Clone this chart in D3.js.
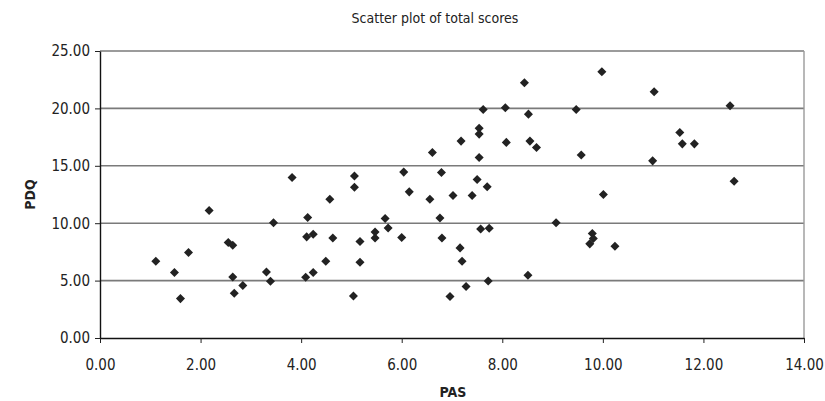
<!DOCTYPE html>
<html>
<head>
<meta charset="utf-8">
<script src="https://cdn.jsdelivr.net/npm/d3@7"></script>
<style>
  body { margin: 0; background: #fff; }
  svg text { font-family: "DejaVu Sans Condensed", "Liberation Sans Narrow", sans-serif; fill: #222; }
</style>
</head>
<body>
<script>
// values
const pas = [1.11, 1.48, 1.60, 1.76, 2.17, 2.55, 2.64, 2.64, 2.67, 2.84,
  3.31, 3.39, 3.45, 3.82, 4.13, 4.11, 4.24, 4.09, 4.24, 4.57,
  4.63, 4.49, 5.06, 5.06, 5.04, 5.17, 5.17, 5.47, 5.47, 5.67,
  5.73, 6.00, 6.04, 6.15, 6.56, 6.61, 6.79, 6.76, 6.80, 6.96,
  7.02, 7.18, 7.16, 7.20, 7.28, 7.40, 7.50, 7.54, 7.54, 7.54,
  7.62, 7.70, 7.57, 7.74, 7.72, 8.06, 8.08, 8.44, 8.52, 8.55,
  8.68, 8.51, 9.07, 9.47, 9.57, 9.79, 9.81, 9.74, 9.98, 10.01,
  10.24, 11.02, 10.99, 11.53, 11.58, 11.82, 12.53, 12.61];
const pdq = [6.69, 5.70, 3.43, 7.45, 11.10, 8.32, 8.08, 5.32, 3.90, 4.57,
  5.75, 4.94, 10.03, 13.98, 10.50, 8.81, 9.04, 5.29, 5.70, 12.09,
  8.72, 6.69, 14.12, 13.14, 3.66, 8.40, 6.60, 9.24, 8.72, 10.41,
  9.59, 8.75, 14.45, 12.73, 12.09, 16.16, 14.42, 10.46, 8.72, 3.61,
  12.41, 17.15, 7.85, 6.69, 4.48, 12.41, 13.81, 18.28, 17.76, 15.73,
  19.91, 13.17, 9.50, 9.56, 4.97, 20.05, 17.04, 22.23, 19.50, 17.15,
  16.60, 5.46, 10.03, 19.91, 15.95, 9.10, 8.67, 8.20, 23.19, 12.50,
  7.99, 21.45, 15.43, 17.91, 16.91, 16.91, 20.23, 13.66];
const xTicks = [0, 2, 4, 6, 8, 10, 12, 14];
const yTicks = [0, 5, 10, 15, 20, 25];

const W = 825, H = 401;
const m = { left: 100, right: 21, top: 51, bottom: 63 };

const svg = d3.select("body").append("svg").attr("width", W).attr("height", H);

const x = d3.scaleLinear().domain([0, 14]).range([m.left, W - m.right]);
const y = d3.scaleLinear().domain([0, 25]).range([H - m.bottom, m.top]);

// gridlines
svg.append("g")
  .selectAll("line")
  .data(yTicks.slice(1))
  .enter()
  .append("line")
  .attr("x1", x(0))
  .attr("x2", x(14))
  .attr("y1", (d) => y(d))
  .attr("y2", (d) => y(d))
  .attr("stroke", "#7a7a7a")
  .attr("stroke-width", 1.6);

// right border
svg.append("line")
  .attr("x1", x(14)).attr("x2", x(14))
  .attr("y1", y(25)).attr("y2", y(0))
  .attr("stroke", "#9a9a9a").attr("stroke-width", 1.4);

const xAxis = d3.axisBottom(x).tickValues(xTicks).tickFormat(d3.format(".2f")).tickSize(5).tickSizeOuter(0);
const yAxis = d3.axisLeft(y).tickValues(yTicks).tickFormat(d3.format(".2f")).tickSize(5).tickSizeOuter(0);

const gx = svg.append("g")
  .attr("transform", "translate(0," + y(0) + ")")
  .call(xAxis);
gx.select(".domain").attr("stroke", "#111").attr("stroke-width", 1.4);
gx.selectAll(".tick line").attr("stroke", "#222");
gx.selectAll(".tick text").attr("dy", "1.05em").style("font-size", "15px").attr("y", 16);

const gy = svg.append("g")
  .attr("transform", "translate(" + x(0) + ",0)")
  .call(yAxis);
gy.select(".domain").attr("stroke", "#111").attr("stroke-width", 1.4);
gy.selectAll(".tick line").attr("stroke", "#222");
gy.selectAll(".tick text").style("font-size", "15px").attr("x", -10);

// points as diamonds
const diamond = d3.symbol().type(d3.symbolDiamond2).size(52);
svg.append("g")
  .selectAll("path")
  .data(pas.map((p, i) => [p, pdq[i]]))
  .enter()
  .append("path")
  .attr("d", diamond)
  .attr("transform", (d) => "translate(" + x(d[0]) + "," + y(d[1]) + ")")
  .attr("fill", "#222");

// titles
svg.append("text")
  .attr("x", 435)
  .attr("y", 23)
  .attr("text-anchor", "middle")
  .style("font-size", "14px")
  .text("Scatter plot of total scores");

svg.append("text")
  .attr("x", 453)
  .attr("y", 397)
  .attr("text-anchor", "middle")
  .style("font-size", "14px")
  .style("font-weight", "bold")
  .text("PAS");

svg.append("text")
  .attr("transform", "translate(35," + y(12.5) + ") rotate(-90)")
  .attr("text-anchor", "middle")
  .style("font-size", "14px")
  .style("font-weight", "bold")
  .text("PDQ");
</script>
</body>
</html>
